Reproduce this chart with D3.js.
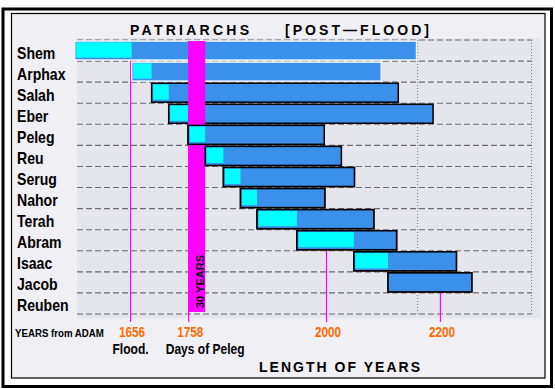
<!DOCTYPE html>
<html>
<head>
<meta charset="utf-8">
<script src="https://cdnjs.cloudflare.com/ajax/libs/d3/7.8.5/d3.min.js"></script>
<style>
body { margin: 0; background: #fff; }
svg text { font-family: "Liberation Sans", Arial, sans-serif; font-weight: bold; }
</style>
</head>
<body>
<div id="chart"></div>
<script>
// patriarchs, years from Adam
var names   = ["Shem", "Arphax", "Salah", "Eber", "Peleg", "Reu", "Serug", "Nahor", "Terah", "Abram", "Isaac", "Jacob", "Reuben"];
var born    = [1558, 1658, 1693, 1723, 1757, 1787, 1819, 1849, 1878, 1948, 2048, 2108, null];
var sonBorn = [1658, 1693, 1723, 1757, 1787, 1819, 1849, 1878, 1948, 2048, 2108, null, null];
var died    = [2158, 2096, 2126, 2187, 1996, 2026, 2049, 1997, 2083, 2123, 2228, 2255, null];

var tickYears  = [1656, 1758, 2000, 2200];
var tickNotes  = ["Flood.", "Days of Peleg", "", ""];
var gridYears  = [2160, 2360];
var pelegBand  = [1757, 1787];
var bandLabel  = "30 YEARS";

var width = 555, height = 389;
var BLUE = "#3a90ea", CYAN = "#00ffff", MAGENTA = "#ff00ff", ORANGE = "#ff6a00";

var svg = d3.select("#chart")
  .append("svg")
  .attr("width", width)
  .attr("height", height);

var x = d3.scaleLinear()
  .domain([1562, 2360])
  .range([77, 531.6]);

var y = d3.scaleBand()
  .domain(names)
  .range([40, 314])
  .paddingInner(0.1)
  .paddingOuter(0.05);

var bw = y.bandwidth();

// frames
svg.append("rect")
  .attr("x", 3).attr("y", 9).attr("width", 548.5).attr("height", 377.5)
  .attr("fill", "#fff").attr("stroke", "#000").attr("stroke-width", 3);
svg.append("rect")
  .attr("x", 11.5).attr("y", 13.5).attr("width", 533.5).attr("height", 364.5)
  .attr("fill", "#efeff4").attr("stroke", "#000").attr("stroke-width", 1.2);

// plot background
svg.append("rect")
  .attr("x", 77).attr("y", 38).attr("width", 464).attr("height", 280)
  .attr("fill", "#e5e5ec");

// grid
var grid = svg.append("g");
grid.selectAll(".hline")
  .data(d3.range(names.length + 1))
  .enter().append("line")
  .attr("x1", x.range()[0]).attr("x2", x.range()[1])
  .attr("y1", function(i) { return y.range()[0] + i * y.step(); })
  .attr("y2", function(i) { return y.range()[0] + i * y.step(); })
  .attr("stroke", "#6e6874").attr("stroke-width", 1.1)
  .attr("stroke-dasharray", "6,3");

grid.selectAll(".vline")
  .data(gridYears)
  .enter().append("line")
  .attr("x1", function(d) { return x(d); }).attr("x2", function(d) { return x(d); })
  .attr("y1", y.range()[0]).attr("y2", y.range()[1])
  .attr("stroke", "#77727c").attr("stroke-width", 1)
  .attr("stroke-dasharray", "1,2");

var data = names.map(function(n, i) {
  return {name: n, born: born[i], son: sonBorn[i], died: died[i], i: i};
}).filter(function(d) { return d.born != null; });

// tick lines: from the bottom of the last bar alive at that year
var ticks = svg.append("g");
tickYears.forEach(function(t) {
  var alive = data.filter(function(d) { return d.born <= t && d.died >= t; });
  var top = alive.length ? y(alive[alive.length - 1].name) + bw : y.range()[0];
  ticks.append("line")
    .attr("x1", x(t)).attr("x2", x(t))
    .attr("y1", top).attr("y2", 322)
    .attr("stroke", MAGENTA).attr("stroke-width", 1.2);
});

function drawBars(layer, rows) {
  var g = layer.selectAll("g")
    .data(rows)
    .enter().append("g");
  g.append("rect")
    .attr("x", function(d) { return x(d.born); })
    .attr("y", function(d) { return y(d.name); })
    .attr("width", function(d) { return x(d.died) - x(d.born); })
    .attr("height", bw)
    .attr("fill", BLUE)
    .attr("stroke", function(d) { return d.i < 2 ? "#eef6ff" : "#000"; })
    .attr("stroke-width", 1.5);
  g.filter(function(d) { return d.son != null; })
    .append("rect")
    .attr("x", function(d) { return x(d.born) + 1.5; })
    .attr("y", function(d) { return y(d.name) + 1.2; })
    .attr("width", function(d) { return x(d.son) - x(d.born) - 1.5; })
    .attr("height", bw - 3.6)
    .attr("fill", CYAN);
}

drawBars(svg.append("g"), data);

// Peleg band
var band = svg.append("g");
band.append("rect")
  .attr("x", x(pelegBand[0]))
  .attr("y", y(names[0]))
  .attr("width", x(pelegBand[1]) - x(pelegBand[0]))
  .attr("height", y.range()[1] - 2 - y(names[0]))
  .attr("fill", MAGENTA);
band.append("text")
  .attr("transform", "translate(" + (x(pelegBand[1]) - 1.5) + "," + (y.range()[1] - 6) + ") rotate(-90)")
  .attr("font-size", 11)
  .attr("fill", "#111")
  .text(bandLabel);

// bars born from Peleg on sit above the band
drawBars(svg.append("g"), data.filter(function(d) { return d.born >= pelegBand[0]; }));

// row labels
svg.append("g").selectAll("text")
  .data(names)
  .enter().append("text")
  .attr("transform", function(d) {
    return "translate(17," + (y(d) + bw / 2 + 8) + ") scale(0.88,1)";
  })
  .attr("font-size", 16)
  .attr("fill", "#000")
  .text(function(d) { return d; });

// axis labels
var axis = svg.append("g")
  .attr("transform", "translate(1,326)")
  .call(d3.axisBottom(x).tickValues(tickYears).tickSize(0).tickPadding(0).tickFormat(d3.format("d")));
axis.select(".domain").remove();
axis.attr("font-family", null).attr("font-size", null);
axis.selectAll("text")
  .attr("font-size", 15)
  .attr("fill", ORANGE)
  .attr("transform", "scale(0.78,1)");

svg.append("g").selectAll("text")
  .data(tickYears)
  .enter().append("text")
  .attr("transform", function(d, i) {
    var cx = d === pelegBand[0] + 1 ? x(pelegBand[1]) : x(d);
    return "translate(" + cx + ",354) scale(0.86,1)";
  })
  .attr("text-anchor", "middle")
  .attr("font-size", 14)
  .attr("fill", "#000")
  .text(function(d, i) { return tickNotes[i]; });

svg.append("text")
  .attr("transform", "translate(15,337) scale(0.88,1)")
  .attr("font-size", 11)
  .attr("fill", "#000")
  .text("YEARS from ADAM");

// titles
svg.append("text")
  .attr("x", 130).attr("y", 35)
  .attr("font-size", 14)
  .attr("textLength", 119).attr("lengthAdjust", "spacing")
  .text("PATRIARCHS");
svg.append("text")
  .attr("x", 285).attr("y", 35)
  .attr("font-size", 14)
  .attr("textLength", 144).attr("lengthAdjust", "spacing")
  .text("[POST\u2014FLOOD]");
svg.append("text")
  .attr("x", 259).attr("y", 372)
  .attr("font-size", 14)
  .attr("textLength", 161).attr("lengthAdjust", "spacing")
  .text("LENGTH OF YEARS");
</script>
</body>
</html>
